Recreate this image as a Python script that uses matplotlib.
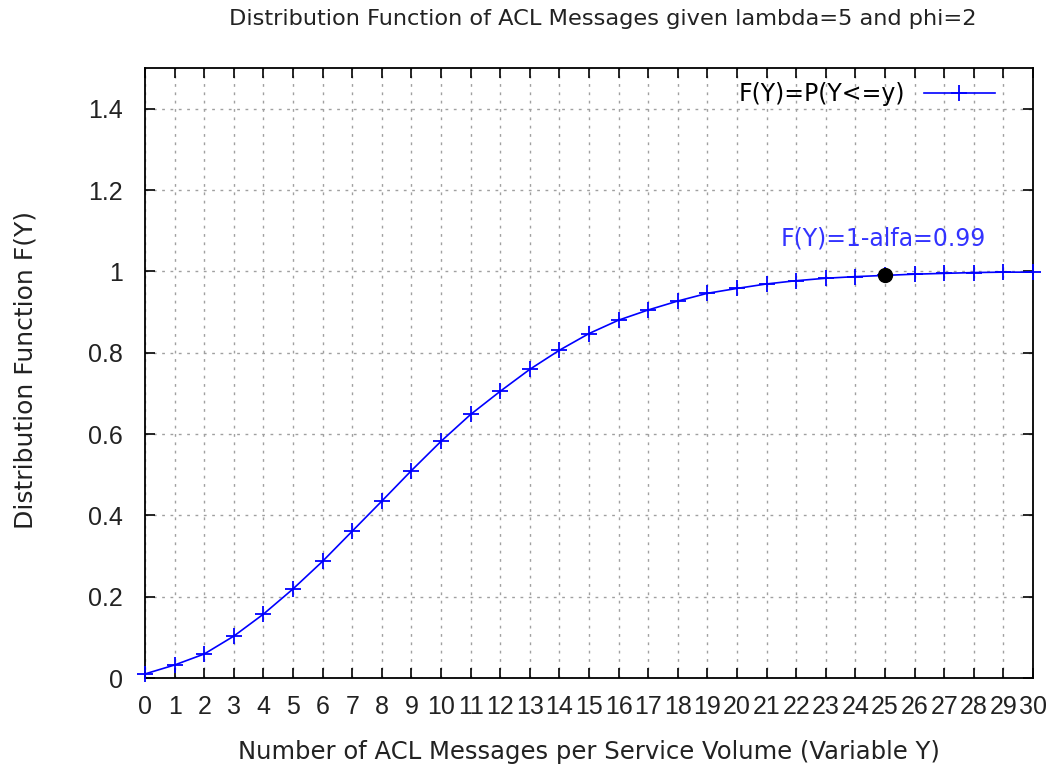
import matplotlib
matplotlib.use("Agg")
import matplotlib.pyplot as plt

plt.rcParams['font.family'] = ['DejaVu Sans']

# values
messages = list(range(0, 31))
cdf = [0.010, 0.032, 0.059, 0.103, 0.157, 0.219, 0.287, 0.361, 0.435, 0.510,
       0.582, 0.648, 0.705, 0.759, 0.806, 0.847, 0.880, 0.905, 0.927, 0.946,
       0.958, 0.969, 0.977, 0.983, 0.987, 0.990, 0.993, 0.995, 0.997, 0.998,
       0.998]
alfa_x = 25
alfa_y = 0.99
y_ticks = [0, 0.2, 0.4, 0.6, 0.8, 1, 1.2, 1.4]
y_tick_labels = ["0", "0.2", "0.4", "0.6", "0.8", "1", "1.2", "1.4"]

text_col = "#222222"

fig = plt.figure(figsize=(10.48, 7.76), dpi=100)
ax = fig.add_axes([145/1048, 1 - 678/776, 888/1048, 610/776])

ax.plot(messages, cdf, color="#0000ff", lw=1.2, marker="+", ms=11, mew=1.3,
        label="F(Y)=P(Y<=y)", clip_on=False, zorder=3)
ax.plot([alfa_x], [alfa_y], "o", color="black", ms=10, zorder=4)
ax.text(alfa_x - 0.05, 1.08, "F(Y)=1-alfa=0.99", color="#3333ff", fontsize=17,
        ha="center", va="center")

ax.set_xlim(0, 30)
ax.set_ylim(0, 1.5)
ax.set_xticks(messages)
ax.set_xticklabels([str(m) for m in messages], family="Liberation Sans")
ax.set_yticks(y_ticks)
ax.set_yticklabels(y_tick_labels, family="Liberation Sans")
ax.tick_params(direction="in", length=7, width=1.2, top=True, right=True,
               labelsize=18, colors="black", labelcolor=text_col)
ax.tick_params(axis="x", pad=12)
ax.tick_params(axis="y", pad=16)
ax.grid(True, color="#a0a0a0", linestyle=(0, (2, 4)), linewidth=1.0)
for sp in ax.spines.values():
    sp.set_linewidth(1.3)

ax.set_title("Distribution Function of ACL Messages given lambda=5 and phi=2",
             fontsize=16.2, color=text_col, pad=31, x=0.516)
ax.set_xlabel("Number of ACL Messages per Service Volume (Variable Y)",
              fontsize=17.5, color=text_col, labelpad=15)
ax.set_ylabel("Distribution Function F(Y)", fontsize=18, color=text_col)
ax.yaxis.set_label_coords(-107/888, 0.505)

leg = ax.legend(loc="upper right", bbox_to_anchor=(1 - 24/888, 1),
                frameon=False, fontsize=17, handlelength=3.0,
                markerfirst=False, borderaxespad=0.2)

fig.savefig("out.png", dpi=100)
